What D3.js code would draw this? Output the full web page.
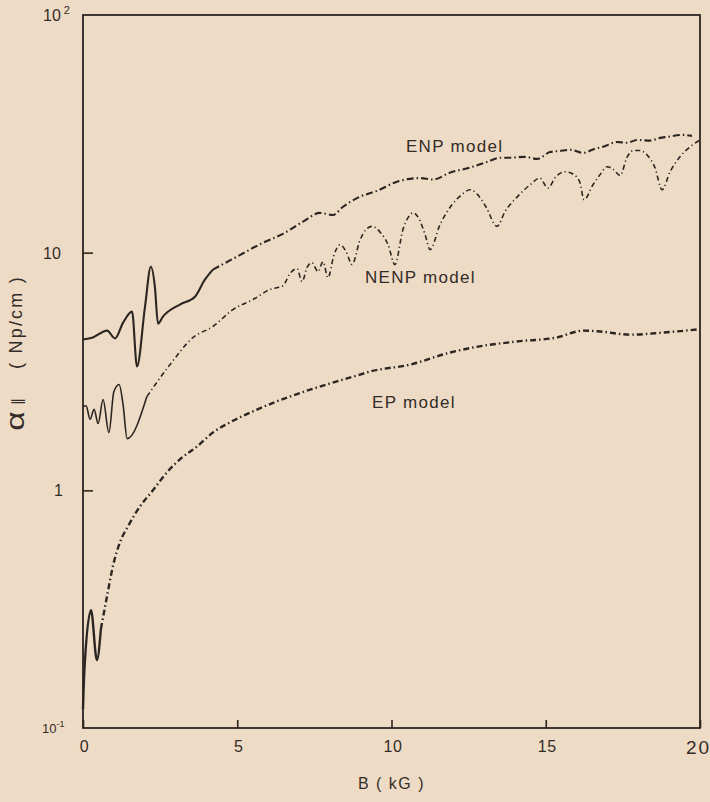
<!DOCTYPE html>
<html>
<head>
<meta charset="UTF-8">
<title>alpha vs B</title>
<script src="https://d3js.org/d3.v7.min.js"></script>
<style>
  body { margin: 0; background: #eedbc5; }
  text { font-family: "Liberation Sans", Arial, sans-serif; fill: #342c28; }
</style>
</head>
<body>
<div id="chart"></div>
<script>
// axis ticks
var xTicks = [0, 5, 10, 15, 20];
var yTicks = [0.1, 1, 10, 100];

// [B (kG), alpha (Np/cm)]
var enpData = [[0,4.31],[0.32,4.40],[0.78,4.70],[1.04,4.36],[1.30,5.08],[1.59,5.65],[1.75,3.32],[2.01,5.93],[2.20,8.73],[2.33,7.19],[2.43,5.03],[2.59,5.38],[3.14,6.05],[3.63,6.53],[3.95,7.70],[4.21,8.49],[4.99,9.62],[5.83,11.0],[6.48,12.0],[7.13,13.5],[7.68,14.7],[8.10,14.4],[8.43,15.6],[8.98,17.2],[9.53,18.2],[10.18,19.9],[10.92,20.6],[11.35,20.3],[11.89,21.7],[12.54,22.8],[13.10,24.1],[13.52,25.1],[13.84,25.1],[14.33,25.3],[14.72,24.8],[15.14,26.5],[15.46,26.8],[15.79,27.1],[16.21,26.3],[16.60,27.4],[16.86,27.9],[17.31,29.2],[17.63,29.0],[17.96,29.8],[18.38,29.6],[18.70,30.4],[18.93,30.7],[19.45,31.3],[19.74,31.0]];

var nenpData = [[0,2.25],[0.10,2.27],[0.23,1.99],[0.36,2.19],[0.49,1.91],[0.65,2.41],[0.84,1.75],[1.00,2.60],[1.17,2.79],[1.30,2.29],[1.43,1.65],[2.07,2.48],[2.82,3.38],[3.57,4.40],[4.21,4.89],[4.86,5.76],[5.51,6.35],[6.06,7.00],[6.48,7.26],[6.71,8.17],[6.94,8.57],[7.10,7.55],[7.26,8.65],[7.42,9.08],[7.62,8.32],[7.78,9.16],[7.94,7.85],[8.14,9.82],[8.33,10.8],[8.53,10.1],[8.72,8.91],[8.98,11.3],[9.17,12.5],[9.37,12.9],[9.63,12.2],[9.89,10.8],[10.11,8.91],[10.37,12.5],[10.53,14.0],[10.70,14.7],[10.89,13.9],[11.09,11.9],[11.25,10.3],[11.57,13.1],[11.96,15.9],[12.31,17.7],[12.54,18.4],[12.80,17.5],[13.06,15.6],[13.42,12.9],[13.68,14.9],[14.10,17.3],[14.49,19.3],[14.81,20.6],[15.07,18.7],[15.33,20.9],[15.62,21.9],[15.91,21.3],[16.11,19.7],[16.24,16.7],[16.53,19.3],[16.76,21.3],[16.99,23.0],[17.21,22.3],[17.41,21.1],[17.63,25.1],[17.83,26.9],[18.05,26.9],[18.28,25.8],[18.54,22.8],[18.77,18.4],[19.03,21.9],[19.35,25.3],[19.68,27.9],[20.0,29.8]];

var epData = [[0,0.12],[0.04,0.17],[0.26,0.313],[0.45,0.193],[0.58,0.261],[0.78,0.359],[0.97,0.480],[1.20,0.605],[1.46,0.706],[1.85,0.857],[2.24,0.99],[2.72,1.19],[3.14,1.35],[3.70,1.53],[4.21,1.75],[4.76,1.93],[5.51,2.15],[6.29,2.37],[7.20,2.61],[8.10,2.84],[8.98,3.07],[9.30,3.16],[10.60,3.38],[11.90,3.80],[12.64,3.99],[14.07,4.23],[15.37,4.40],[16.01,4.66],[16.21,4.70],[16.76,4.66],[17.73,4.52],[18.80,4.61],[19.90,4.75]];

var ink = "#2c2622";
var W = 710, H = 802;
var plotL = 83, plotR = 700, plotT = 15, plotB = 728;

var svg = d3.select("#chart").append("svg")
    .attr("width", W)
    .attr("height", H);

svg.append("rect").attr("width", W).attr("height", H).attr("fill", "#eedbc5");

var x = d3.scaleLinear().domain([0, 20]).range([plotL, plotR]);
var y = d3.scaleLog().domain([0.1, 100]).range([plotB, plotT]);

// frame
svg.append("rect")
    .attr("x", plotL).attr("y", plotT)
    .attr("width", plotR - plotL).attr("height", plotB - plotT)
    .attr("fill", "none").attr("stroke", ink).attr("stroke-width", 1.8);

// x axis, ticks pointing inward
var xAxis = svg.append("g")
    .attr("transform", "translate(0," + plotB + ")")
    .call(d3.axisBottom(x).tickValues(xTicks).tickSize(-8).tickSizeOuter(0).tickPadding(13));
xAxis.select(".domain").remove();
xAxis.selectAll("line").attr("stroke", ink).attr("stroke-width", 1.6);
xAxis.selectAll("text")
    .style("font-size", function (d) { return d === 20 ? "19px" : "16px"; })
    .style("letter-spacing", function (d) { return d === 20 ? "2px" : "0.5px"; })
    .attr("dx", function (d) { return d === 20 ? "-2" : "1"; })
    .attr("fill", "#342c28");

// y axis (log), labels as powers of ten
var yAxis = svg.append("g")
    .attr("transform", "translate(" + plotL + ",0)")
    .call(d3.axisLeft(y).tickValues(yTicks).tickSize(-10).tickSizeOuter(0).tickFormat(""));
yAxis.select(".domain").remove();
yAxis.selectAll("line").attr("stroke", ink).attr("stroke-width", 1.6)
    .attr("opacity", function (d) { return (d === 10 || d === 1) ? 1 : 0; });

yAxis.selectAll(".tick").each(function (d) {
    var t = d3.select(this).append("text").attr("fill", "#342c28").attr("dy", "0.35em");
    if (d === 1) {
        t.attr("x", -20).attr("text-anchor", "end").style("font-size", "16px").text("1");
    } else if (d === 10) {
        t.attr("x", -40).attr("text-anchor", "start").style("font-size", "16px").text("10");
    } else if (d === 100) {
        t.attr("x", -40).attr("text-anchor", "start").style("font-size", "16px");
        t.append("tspan").text("10");
        t.append("tspan").attr("dx", 3).attr("dy", -7).style("font-size", "11px").text("2");
    } else {
        t.attr("x", -41).attr("text-anchor", "start").style("font-size", "13px");
        t.append("tspan").text("10");
        t.append("tspan").attr("dy", -6).style("font-size", "9px").text("-1");
    }
});

// curves: solid start, broken line after
var line = d3.line()
    .x(function (d) { return x(d[0]); })
    .y(function (d) { return y(d[1]); })
    .curve(d3.curveMonotoneX);

function drawSeries(data, solidTo, width, dash) {
    svg.append("path")
        .datum(data.filter(function (d) { return d[0] <= solidTo; }))
        .attr("fill", "none").attr("stroke", ink)
        .attr("stroke-width", width).attr("stroke-linejoin", "round")
        .attr("d", line);
    svg.append("path")
        .datum(data.filter(function (d) { return d[0] >= solidTo; }))
        .attr("fill", "none").attr("stroke", ink)
        .attr("stroke-width", width).attr("stroke-dasharray", dash)
        .attr("d", line);
}

drawSeries(enpData, 4.21, 2.1, "7,3,1.5,3");
drawSeries(nenpData, 2.07, 1.6, "5,3,1.2,3");
drawSeries(epData, 0.58, 2.4, "6,3,1.5,3");

// curve labels
var labels = [
    {text: "ENP model", b: 10.47, a: 26.6},
    {text: "NENP model", b: 9.14, a: 7.45},
    {text: "EP model", b: 9.37, a: 2.23}
];
svg.selectAll(".lbl")
    .data(labels)
    .enter().append("text")
    .attr("class", "lbl")
    .attr("x", function (d) { return x(d.b); })
    .attr("y", function (d) { return y(d.a); })
    .style("font-size", "17px")
    .style("letter-spacing", "1.3px")
    .text(function (d) { return d.text; });

// axis titles
svg.append("text")
    .attr("x", (plotL + plotR) / 2)
    .attr("y", 789)
    .attr("text-anchor", "middle")
    .style("font-size", "16px")
    .style("letter-spacing", "1.5px")
    .text("B ( kG )");

// rotated y title: big alpha, parallel sign, unit
svg.append("text")
    .attr("transform", "translate(24,421) rotate(-90) scale(1.4,1.1)")
    .attr("text-anchor", "middle")
    .style("font-size", "24px")
    .text("α");
svg.append("text")
    .attr("transform", "translate(22,401) rotate(-90)")
    .attr("text-anchor", "middle")
    .style("font-size", "14px")
    .text("∥");
svg.append("text")
    .attr("transform", "translate(22,322) rotate(-90)")
    .attr("text-anchor", "middle")
    .style("font-size", "18px")
    .style("letter-spacing", "2.2px")
    .text("( Np/cm )");
</script>
</body>
</html>
